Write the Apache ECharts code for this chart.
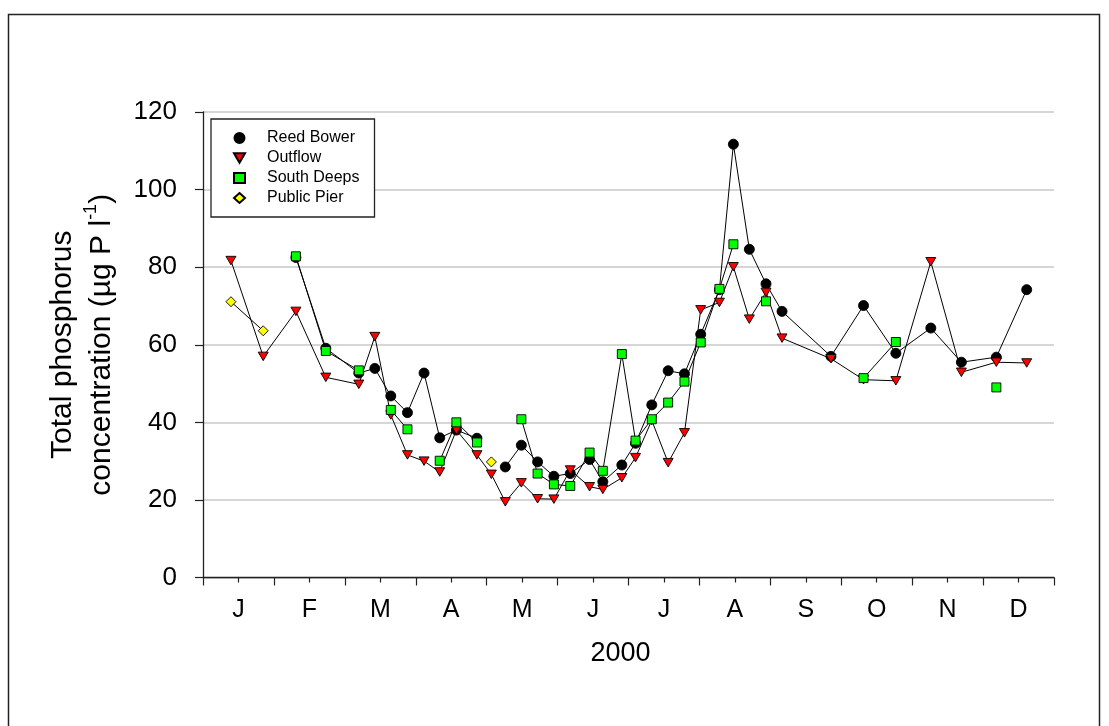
<!DOCTYPE html>
<html>
<head>
<meta charset="utf-8">
<script src="https://cdn.jsdelivr.net/npm/echarts@6/dist/echarts.min.js"></script>
<style>
html,body{margin:0;padding:0;background:#fff;}
#chart{width:1109px;height:726px;}
</style>
</head>
<body>
<div id="chart"></div>
<script>
// Sampling dates expressed as fractional months from 1 January 2000
const sampleMonth = [0.394,0.849,1.310,1.732,2.197,2.423,2.648,2.883,3.117,3.338,3.573,3.863,4.066,4.263,4.489,4.718,4.948,5.179,5.451,5.638,5.906,6.099,6.328,6.559,6.789,7.018,7.282,7.479,7.704,7.939,8.165,8.855,9.314,9.770,10.263,10.694,11.187,11.615];
const reedBower  = [null,null,82.5,59.1,52.7,53.9,46.8,42.5,52.7,36.0,38.0,35.9,null,28.5,34.1,29.8,26.1,26.8,30.4,24.7,29.0,34.6,44.5,53.3,52.5,62.7,74.2,111.7,84.6,75.7,68.6,57.0,70.1,57.8,64.3,55.5,56.8,74.2];
const outflow    = [81.7,57.0,68.6,51.6,49.8,62.1,41.9,31.6,30.0,27.2,38.0,31.6,26.6,19.5,24.4,20.3,20.2,27.7,23.4,22.7,25.7,30.9,40.5,29.6,37.3,69.0,70.9,80.1,66.6,73.5,61.7,56.4,51.0,50.7,81.4,52.9,55.5,55.3];
const southDeeps = [null,null,82.8,58.4,53.4,null,43.2,38.2,null,30.1,40.0,34.8,null,null,40.8,26.8,24.0,23.6,32.2,27.5,57.6,35.3,40.8,45.1,50.5,60.6,74.4,85.9,null,71.2,null,null,51.4,60.7,null,null,49.0,null];
const publicPier = [71.1,63.6,null,null,null,null,null,null,null,null,null,null,29.8,null,null,null,null,null,null,null,null,null,null,null,null,null,null,null,null,null,null,null,null,null,null,null,null,null];
const monthLabels = ['J','F','M','A','M','J','J','A','S','O','N','D'];
const yTicks = [0,20,40,60,80,100,120];
const seriesNames = ['Reed Bower','Outflow','South Deeps','Public Pier'];

const FONT = '"Liberation Sans", Arial, sans-serif';
const triDown = 'path://M0,0L10,0L5,8.66Z';

function toData(arr){
  return sampleMonth.map((m,i)=>[m, arr[i]==null ? '-' : arr[i]]);
}
function mk(name, arr, symbol, size, fill){
  return {
    name, type:'line', data: toData(arr), xAxisIndex:0,
    symbol, symbolSize:size, showSymbol:true, showAllSymbol:true,
    connectNulls:false, animation:false,
    lineStyle:{color:'#000', width:1},
    itemStyle:{color:fill, borderColor:'#000', borderWidth:0.9},
    emphasis:{disabled:true}
  };
}

const chart = echarts.init(document.getElementById('chart'), null, {renderer:'canvas'});
chart.setOption({
  backgroundColor:'#fff',
  animation:false,
  textStyle:{fontFamily:FONT},
  graphic:[{
    type:'rect', silent:true, z:-1,
    shape:{x:8.5,y:14.5,width:1091,height:800},
    style:{fill:'none', stroke:'#222', lineWidth:1.5}
  }],
  grid:{left:203, right:55, top:112, bottom:148.5, containLabel:false},
  legend:{
    orient:'vertical', left:211, top:119,
    padding:[9,15,9,22],
    itemGap:0, itemWidth:11, itemHeight:10,
    borderColor:'#222', borderWidth:1.3, backgroundColor:'#fff',
    textStyle:{fontFamily:FONT, fontSize:16, color:'#000', lineHeight:20, padding:[0,0,0,17]},
    data:[
      {name:seriesNames[0], icon:'circle'},
      {name:seriesNames[1], icon:triDown},
      {name:seriesNames[2], icon:'rect'},
      {name:seriesNames[3], icon:'diamond'}
    ],
    selectedMode:false
  },
  xAxis:[{
    type:'value', min:0, max:12, interval:1,
    name:'2000', nameLocation:'middle', nameGap:63,
    nameTextStyle:{fontFamily:FONT, fontSize:27, color:'#000', padding:[0,16,0,0]},
    axisLine:{show:true, lineStyle:{color:'#222', width:1.3}},
    axisTick:{show:true, length:8, inside:false, lineStyle:{color:'#222', width:1.2}},
    minorTick:{show:true, splitNumber:2, length:5, lineStyle:{color:'#222', width:1.2}},
    axisLabel:{show:false},
    splitLine:{show:false}
  },{
    type:'category', position:'bottom', boundaryGap:true,
    data: monthLabels.map((m,i)=>String(i)),
    axisLine:{show:false}, axisTick:{show:false},
    axisLabel:{show:true, margin:20, fontFamily:FONT, fontSize:25, color:'#000',
      formatter:(v,i)=>monthLabels[i]},
    splitLine:{show:false}
  }],
  yAxis:{
    type:'value', min:yTicks[0], max:yTicks[yTicks.length-1], interval:20,
    name:'Total phosphorus\nconcentration (µg P l{sup|-1})',
    nameLocation:'middle', nameGap:82,
    nameTextStyle:{fontFamily:FONT, fontSize:30, color:'#000', lineHeight:39, align:'center',
      rich:{sup:{fontFamily:FONT, fontSize:18, verticalAlign:'top', lineHeight:39, color:'#000'}}},
    axisLine:{show:true, lineStyle:{color:'#222', width:1.3}},
    axisTick:{show:true, length:8, inside:false, lineStyle:{color:'#222', width:1.2}},
    axisLabel:{margin:26, fontFamily:FONT, fontSize:26, color:'#000'},
    splitLine:{show:true, lineStyle:{color:'#c8c8c8', width:1.5}}
  },
  series:[
    mk(seriesNames[0], reedBower, 'circle', 10, '#000'),
    mk(seriesNames[1], outflow, triDown, [10,8.5], '#ff0000'),
    mk(seriesNames[2], southDeeps, 'rect', 9, '#00ff00'),
    mk(seriesNames[3], publicPier, 'diamond', 10, '#ffff00')
  ]
});
</script>
</body>
</html>
